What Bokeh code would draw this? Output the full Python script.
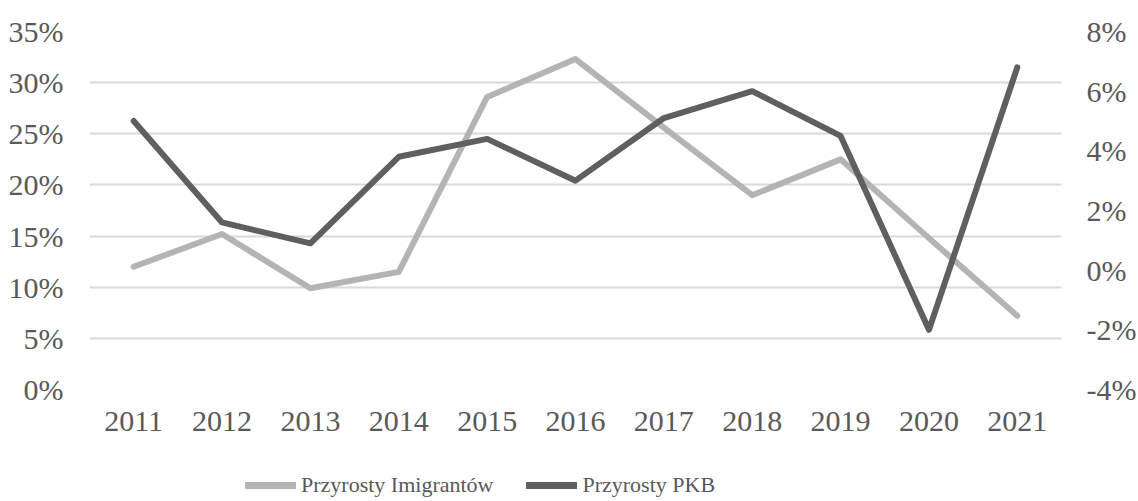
from bokeh.plotting import figure
from bokeh.layouts import column
from bokeh.models import (Range1d, LinearAxis, FixedTicker, NumeralTickFormatter,
                          Legend, LegendItem, FactorRange, ColumnDataSource)
from bokeh.embed import file_html
from bokeh.resources import INLINE

# ---- data ----
years = ["2011", "2012", "2013", "2014", "2015", "2016", "2017", "2018", "2019", "2020", "2021"]
imigranci_pct = [12.0, 15.2, 9.9, 11.5, 28.6, 32.3, 25.6, 19.0, 22.5, 14.8, 7.2]   # left axis
pkb_pct = [5.0, 1.6, 0.9, 3.8, 4.4, 3.0, 5.1, 6.0, 4.5, -2.0, 6.8]                  # right axis
left_ticks = [0, 5, 10, 15, 20, 25, 30, 35]
right_ticks = [-4, -2, 0, 2, 4, 6, 8]
series_names = ["Przyrosty Imigrantów", "Przyrosty PKB"]

FONT = "Liberation Serif"
TXT = "#595959"
LIGHT = "#b4b4b4"
DARK = "#5f5f5f"

src = ColumnDataSource(dict(
    year=years,
    imig=[v / 100 for v in imigranci_pct],
    pkb=[v / 100 for v in pkb_pct],
))

p = figure(frame_width=972, frame_height=358, x_range=FactorRange(factors=years),
           y_range=Range1d(0, 0.35), output_backend="svg", toolbar_location=None,
           min_border_left=89, min_border_right=76, min_border_top=31, min_border_bottom=72)
p.extra_y_ranges = {"pkb": Range1d(-0.04, 0.08)}

p.outline_line_color = None
p.background_fill_color = "white"
p.xgrid.grid_line_color = None
p.ygrid.grid_line_color = "#d9d9d9"
p.ygrid.grid_line_width = 1.8

# left axis
ly = p.yaxis[0]
ly.ticker = FixedTicker(ticks=[t / 100 for t in left_ticks])
ly.formatter = NumeralTickFormatter(format="0%")

# right axis
ry = LinearAxis(y_range_name="pkb",
                ticker=FixedTicker(ticks=[t / 100 for t in right_ticks]),
                formatter=NumeralTickFormatter(format="0%"))
p.add_layout(ry, "right")

for ax in [p.xaxis[0], ly, ry]:
    ax.axis_line_color = None
    ax.major_tick_line_color = None
    ax.minor_tick_line_color = None
    ax.major_tick_in = 0
    ax.major_tick_out = 0
    ax.major_label_text_font = FONT
    ax.major_label_text_font_size = "30px"
    ax.major_label_text_color = TXT
ly.major_label_standoff = 26
ry.major_label_standoff = 25
p.xaxis[0].major_label_standoff = 22

p.line("year", "imig", source=src, line_color=LIGHT, line_width=6,
       line_cap="round", line_join="round")
p.line("year", "pkb", source=src, y_range_name="pkb", line_color=DARK, line_width=6,
       line_cap="round", line_join="round")

# ---- legend strip below the chart (its own lines lie outside its visible y range) ----
lg = figure(width=1137, height=40, x_range=FactorRange(factors=years), y_range=Range1d(10, 11),
            output_backend="svg", toolbar_location=None,
            min_border_left=0, min_border_right=0, min_border_top=0, min_border_bottom=0)
lg.axis.visible = False
lg.grid.grid_line_color = None
lg.outline_line_color = None
k1 = lg.line("year", "imig", source=src, line_color=LIGHT, line_width=7, line_cap="round")
k2 = lg.line("year", "pkb", source=src, line_color=DARK, line_width=7, line_cap="round")

legend = Legend(items=[LegendItem(label=series_names[0], renderers=[k1]),
                       LegendItem(label=series_names[1], renderers=[k2])],
                orientation="horizontal", location=(156, 3))
legend.label_text_font = FONT
legend.label_text_font_size = "22px"
legend.label_text_color = TXT
legend.glyph_width = 51
legend.glyph_height = 20
legend.label_standoff = 5
legend.spacing = 33
legend.padding = 0
legend.margin = 0
legend.border_line_color = None
legend.background_fill_alpha = 0
lg.add_layout(legend)

layout = column(p, lg, spacing=0)
open("out.html", "w").write(file_html(layout, INLINE))
